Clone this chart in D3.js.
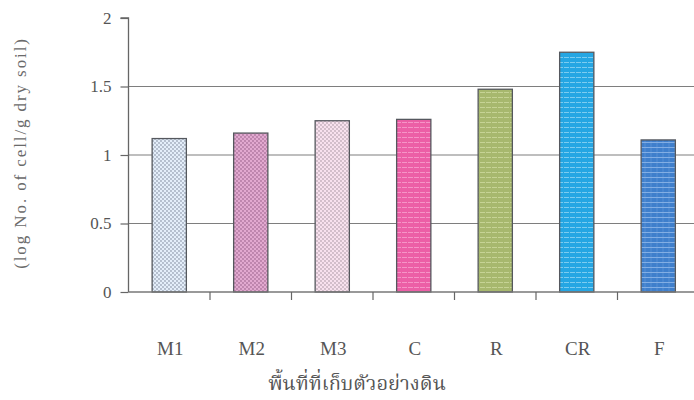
<!DOCTYPE html>
<html>
<head>
<meta charset="utf-8">
<script src="https://cdn.jsdelivr.net/npm/d3@7"></script>
<style>
  html, body { margin: 0; padding: 0; background: #fff; }
  svg { display: block; }
  text { font-family: "Liberation Serif", "DejaVu Serif", serif; fill: #555; }
</style>
</head>
<body>
<svg id="chart" width="694" height="400"></svg>
<script>
// Sampling sites and log cell counts
const sites = ["M1", "M2", "M3", "C", "R", "CR", "F"];
const logCounts = [1.12, 1.16, 1.25, 1.26, 1.48, 1.75, 1.11];
const yTicks = [0, 0.5, 1, 1.5, 2];
const gridValues = [0.5, 1, 1.5];

// Fill style per site: base colour, stroke colour of the texture, texture kind
const fills = [
  { base: "#e4eefa", ink: "#5f6a7e", kind: "dots" },
  { base: "#e2a9d0", ink: "#7e4670", kind: "dots" },
  { base: "#f8e1ee", ink: "#8f7f8a", kind: "dots" },
  { base: "#ec5fa6", ink: "#f79acb", kind: "hlines" },
  { base: "#a7b86e", ink: "#c9d69a", kind: "hlines" },
  { base: "#25a6e3", ink: "#86d0f2", kind: "hlines" },
  { base: "#3f7fcc", ink: "#8ab3e6", kind: "grid" }
];

const svg = d3.select("#chart");
const margin = { left: 128.5 };
const plotW = 81.5 * sites.length;
const y0 = 292, yTop = 18;

const x = d3.scaleBand().domain(sites).range([margin.left, margin.left + plotW]).paddingInner(0.58).paddingOuter(0.29);
const y = d3.scaleLinear().domain([0, 2]).range([y0, yTop]);

// Texture patterns
const defs = svg.append("defs");
fills.forEach((f, i) => {
  const p = defs.append("pattern").attr("id", "pat" + i)
    .attr("patternUnits", "userSpaceOnUse");
  if (f.kind === "dots") {
    p.attr("width", 4).attr("height", 4);
    p.append("rect").attr("width", 4).attr("height", 4).attr("fill", f.base);
    p.append("circle").attr("cx", 1).attr("cy", 1).attr("r", 0.65).attr("fill", f.ink);
    p.append("circle").attr("cx", 3).attr("cy", 3).attr("r", 0.65).attr("fill", f.ink);
  } else if (f.kind === "hlines") {
    p.attr("width", 6).attr("height", 5);
    p.append("rect").attr("width", 6).attr("height", 5).attr("fill", f.base);
    p.append("line").attr("x1", 0).attr("x2", 5).attr("y1", 2.5).attr("y2", 2.5)
      .attr("stroke", f.ink).attr("stroke-width", 0.9);
  } else {
    p.attr("width", 6).attr("height", 5);
    p.append("rect").attr("width", 6).attr("height", 5).attr("fill", f.base);
    p.append("line").attr("x1", 0).attr("x2", 6).attr("y1", 2.5).attr("y2", 2.5)
      .attr("stroke", f.ink).attr("stroke-width", 0.9);
    p.append("line").attr("x1", 3).attr("x2", 3).attr("y1", 0).attr("y2", 5)
      .attr("stroke", f.ink).attr("stroke-width", 0.5).attr("opacity", 0.6);
  }
});

// Horizontal gridlines
svg.append("g").selectAll("line").data(gridValues).join("line")
  .attr("x1", margin.left).attr("x2", 694)
  .attr("y1", d => y(d)).attr("y2", d => y(d))
  .attr("stroke", "#7e7e7e").attr("stroke-width", 1.2);

// Bars
svg.append("g").selectAll("rect").data(sites).join("rect")
  .attr("x", d => x(d))
  .attr("y", (d, i) => y(logCounts[i]))
  .attr("width", x.bandwidth())
  .attr("height", (d, i) => y(0) - y(logCounts[i]))
  .attr("fill", (d, i) => `url(#pat${i})`)
  .attr("stroke", "#55585e").attr("stroke-width", 1.3);

// Y axis
const yAxis = svg.append("g").attr("transform", `translate(${margin.left},0)`)
  .call(d3.axisLeft(y).tickValues(yTicks).tickSize(8).tickPadding(9).tickFormat(d3.format("")));
yAxis.select(".domain").attr("stroke", "#666").attr("stroke-width", 1.3).attr("d", `M-8,${yTop}H0V${y0}`);
yAxis.selectAll(".tick line").attr("stroke", "#666").attr("stroke-width", 1.2);
yAxis.selectAll(".tick text").attr("font-size", 17).style("fill", "#555")
  .attr("font-family", "'Liberation Serif', serif");

// X axis baseline with ticks at band boundaries
const xg = svg.append("g");
xg.append("line").attr("x1", margin.left).attr("x2", 694).attr("y1", y0).attr("y2", y0)
  .attr("stroke", "#777").attr("stroke-width", 1.3);
xg.selectAll("line.tk").data(sites.slice(1)).join("line").attr("class", "tk")
  .attr("x1", d => x(d) - x.step() * 0.29).attr("x2", d => x(d) - x.step() * 0.29)
  .attr("y1", y0).attr("y2", y0 + 8)
  .attr("stroke", "#666").attr("stroke-width", 1.2);

// Category labels
svg.append("g").selectAll("text").data(sites).join("text")
  .attr("x", d => x(d) + x.bandwidth() / 2 + 1)
  .attr("y", 355)
  .attr("text-anchor", "middle")
  .attr("font-size", 19)
  .text(d => d);

// Axis titles
svg.append("text")
  .attr("transform", "translate(26,153) rotate(-90)")
  .attr("text-anchor", "middle")
  .attr("font-size", 17)
  .attr("letter-spacing", 1.9)
  .style("fill", "#6a6a6a")
  .text("(log No. of cell/g dry soil)");

svg.append("text")
  .attr("x", 357).attr("y", 390)
  .attr("text-anchor", "middle")
  .attr("font-size", 20)
  .style("font-family", "'Noto Serif Thai', 'Noto Sans Thai Looped', 'Noto Sans Thai', 'Loma', 'Garuda', 'Norasi', serif")
  .text("พื้นที่ที่เก็บตัวอย่างดิน");
</script>
</body>
</html>
